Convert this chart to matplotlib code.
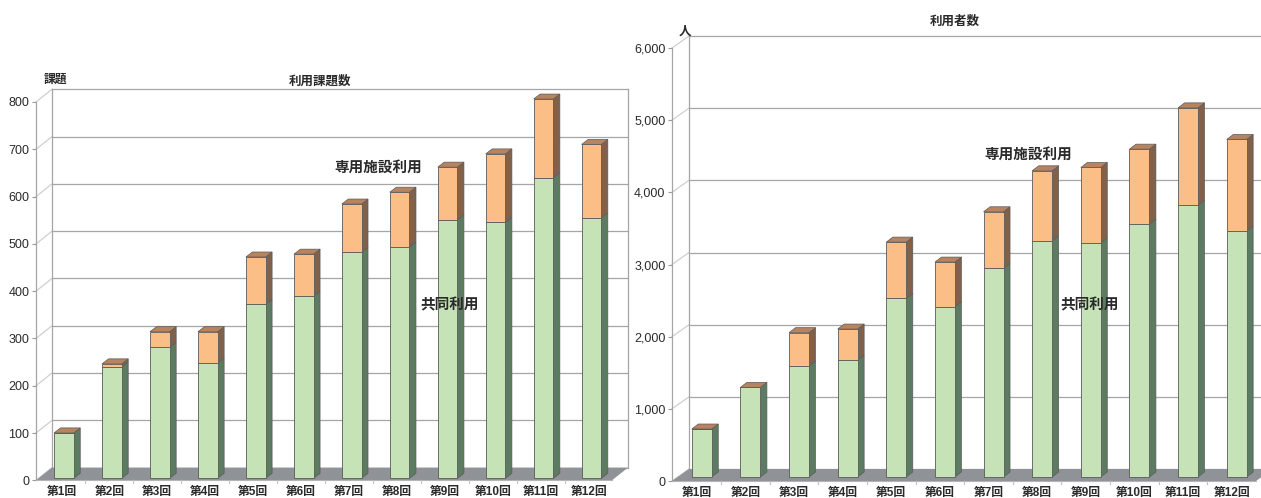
import matplotlib
matplotlib.use("Agg")
import matplotlib.pyplot as plt
from matplotlib.patches import Polygon

plt.rcParams['font.family'] = ['Liberation Sans', 'Noto Sans CJK JP', 'DejaVu Sans']

# ---------------- data ----------------
rounds = ['第1回', '第2回', '第3回', '第4回', '第5回', '第6回',
          '第7回', '第8回', '第9回', '第10回', '第11回', '第12回']
# 利用課題数
kadai_kyodo = [96, 236, 277, 244, 368, 385, 478, 489, 546, 541, 636, 551]
kadai_senyo = [0, 6, 33, 66, 100, 89, 102, 116, 112, 145, 166, 155]
kadai_ticks = [0, 100, 200, 300, 400, 500, 600, 700, 800]
kadai_ticklabels = ['0', '100', '200', '300', '400', '500', '600', '700', '800']
# 利用者数
user_kyodo = [665, 1242, 1537, 1620, 2475, 2359, 2890, 3273, 3245, 3504, 3767, 3411]
user_senyo = [0, 0, 463, 430, 780, 619, 785, 970, 1044, 1039, 1348, 1266]
user_ticks = [0, 1000, 2000, 3000, 4000, 5000, 6000]
user_ticklabels = ['0', '1,000', '2,000', '3,000', '4,000', '5,000', '6,000']

# ---------------- style ----------------
W, H = 1261, 498
GREEN = '#c6e3b7'
GREEN_SIDE = '#5c7b62'
ORANGE = '#fbbe87'
ORANGE_SIDE = '#82614a'
TOP = '#b8835f'
FLOOR = '#8f9297'
GRID = '#a6a6a6'
EDGE = '#5a5a5a'
TXT = '#2a2a2a'

fig = plt.figure(figsize=(W / 100, H / 100), dpi=100)


def panel(L, R, B, T, xlim, ylim, ticks, ticklabels, kyodo, senyo,
          wall, setback, bdepth, width, right_edge):
    ax = fig.add_axes([L / W, 1 - B / H, (R - L) / W, (B - T) / H])
    ax.set_xlim(xlim)
    ax.set_ylim(ylim)
    for s in ax.spines.values():
        s.set_visible(False)
    ax.patch.set_visible(False)
    sx = (xlim[1] - xlim[0]) / (R - L)
    sy = (ylim[1] - ylim[0]) / (B - T)
    wdx, wdy = wall[0] * sx, wall[1] * sy
    sbx, sby = setback[0] * sx, setback[1] * sy
    bdx, bdy = bdepth[0] * sx, bdepth[1] * sy
    xl, xr = xlim
    top = ylim[1]
    lw = 0.9
    # back wall gridlines and side wall diagonals
    for v in ticks:
        ax.plot([xl + wdx, xr + wdx], [v + wdy, v + wdy], color=GRID, lw=lw,
                clip_on=False, zorder=1)
        ax.plot([xl, xl + wdx], [v, v + wdy], color='#cfcfcf', lw=lw,
                clip_on=False, zorder=1)
    ax.plot([xl + wdx, xl + wdx], [wdy, top + wdy], color=GRID, lw=lw,
            clip_on=False, zorder=1)
    if right_edge:
        ax.plot([xr + wdx, xr + wdx], [wdy, top + wdy], color=GRID, lw=lw,
                clip_on=False, zorder=1)
    ax.plot([xl, xl], [0, top], color=GRID, lw=lw, clip_on=False, zorder=1)
    # floor
    floor = Polygon([[xl, 0], [xr, 0], [xr + wdx, wdy], [xl + wdx, wdy]],
                    closed=True, facecolor=FLOOR, edgecolor='none',
                    clip_on=False, zorder=2)
    ax.add_patch(floor)
    ax.plot([xl, xr], [0, 0], color='#b5b5b5', lw=0.8, clip_on=False, zorder=2)
    for k in range(1, len(rounds)):
        ax.plot([k + 0.5, k + 0.5], [0, -3 * sy], color='#c0c0c0', lw=0.8,
                clip_on=False, zorder=2)
    # bars
    xs = [i + 1 + sbx for i in range(len(rounds))]
    b1 = ax.bar(xs, kyodo, width=width, bottom=sby, color=GREEN, edgecolor=EDGE,
                linewidth=0.6, zorder=4)
    bottoms2 = [sby + g for g in kyodo]
    b2 = ax.bar(xs, senyo, width=width, bottom=bottoms2, color=ORANGE,
                edgecolor=EDGE, linewidth=0.6, zorder=4)
    for p in list(b1) + list(b2):
        p.set_clip_on(False)
    for x, g, o in zip(xs, kyodo, senyo):
        xr_b = x + width / 2
        xl_b = x - width / 2
        segs = [(sby, sby + g, GREEN_SIDE), (sby + g, sby + g + o, ORANGE_SIDE)]
        for y0, y1, c in segs:
            if y1 > y0:
                ax.add_patch(Polygon([[xr_b, y0], [xr_b + bdx, y0 + bdy],
                                      [xr_b + bdx, y1 + bdy], [xr_b, y1]],
                                     closed=True, facecolor=c, edgecolor=EDGE,
                                     linewidth=0.5, zorder=3, clip_on=False))
        yt = sby + g + o
        ax.add_patch(Polygon([[xl_b, yt], [xr_b, yt], [xr_b + bdx, yt + bdy],
                              [xl_b + bdx, yt + bdy]], closed=True,
                             facecolor=TOP, edgecolor=EDGE, linewidth=0.5,
                             zorder=5, clip_on=False))
    # ticks
    ax.set_yticks(ticks)
    ax.set_yticklabels(ticklabels)
    ax.tick_params(axis='y', length=3.2, width=0.8, color='#9a9a9a', pad=1.5,
                   labelsize=9, labelcolor=TXT)
    ax.set_xticks(range(1, len(rounds) + 1))
    ax.set_xticklabels(rounds)
    ax.tick_params(axis='x', length=0, pad=4.0, labelsize=8.5, labelcolor=TXT)
    for t in ax.get_xticklabels():
        t.set_fontweight('bold')
    return ax


panel(36, 612, 480.3, 102, (0.47, 12.48), (0, 800), kadai_ticks,
      kadai_ticklabels, kadai_kyodo, kadai_senyo,
      wall=(16, 12.7), setback=(2.5, 2.0), bdepth=(6.5, 5.0), width=0.41,
      right_edge=True)
panel(672, 1256, 481, 48, (0.49, 12.5), (0, 6000), user_ticks,
      user_ticklabels, user_kyodo, user_senyo,
      wall=(17, 12), setback=(5, 4), bdepth=(6.5, 5.0), width=0.41,
      right_edge=False)


def ftext(px, py, s, size, weight='normal', ha='center'):
    fig.text(px / W, 1 - py / H, s, fontsize=size, fontweight=weight,
             ha=ha, va='center', color=TXT)


ftext(55, 80, '課題', 8.5, 'bold')
ftext(320, 82, '利用課題数', 9, 'bold')
ftext(378, 168, '専用施設利用', 10.5, 'bold')
ftext(450, 305, '共同利用', 10.5, 'bold')
ftext(685, 32, '人', 9, 'bold')
ftext(955, 22, '利用者数', 9, 'bold')
ftext(1028, 155, '専用施設利用', 10.5, 'bold')
ftext(1090, 305, '共同利用', 10.5, 'bold')

fig.savefig('out.png', dpi=100)
